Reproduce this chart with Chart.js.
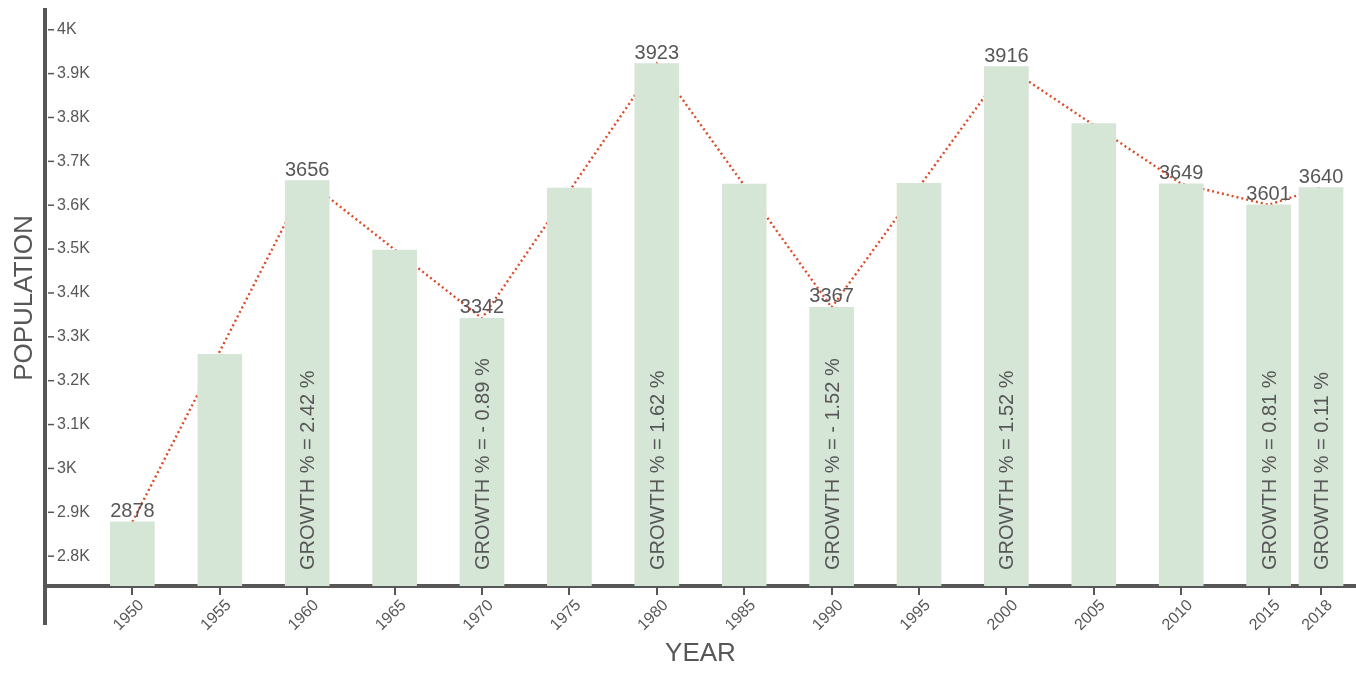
<!DOCTYPE html>
<html>
<head>
<meta charset="utf-8">
<title>Population by year</title>
<script src="https://cdn.jsdelivr.net/npm/chart.js@4.4.1/dist/chart.umd.min.js"></script>
<style>
  html, body { margin: 0; padding: 0; background: #fff; }
  #wrap { width: 1356px; height: 673px; }
</style>
</head>
<body>
<div id="wrap"><canvas id="chart1" width="1356" height="673"></canvas></div>
<script>
const years = [1950, 1955, 1960, 1965, 1970, 1975, 1980, 1985, 1990, 1995, 2000, 2005, 2010, 2015, 2018];
const population = [2878, 3260, 3656, 3498, 3342, 3639, 3923, 3648, 3367, 3650, 3916, 3786, 3649, 3601, 3640];

// years that get a value label on top and a point on the dotted line
const labelYears = [1950, 1960, 1970, 1980, 1990, 2000, 2010, 2015, 2018];

// growth text written inside some bars
const growthYears = [1960, 1970, 1980, 1990, 2000, 2015, 2018];
const growthText = ['GROWTH % = 2.42 %', 'GROWTH % = - 0.89 %', 'GROWTH % = 1.62 %', 'GROWTH % = - 1.52 %',
  'GROWTH % = 1.52 %', 'GROWTH % = 0.81 %', 'GROWTH % = 0.11 %'];

const yTicks = [2800, 2900, 3000, 3100, 3200, 3300, 3400, 3500, 3600, 3700, 3800, 3900, 4000];

const grey = '#575757';
const fontFamily = 'Arial, "Liberation Sans", sans-serif';

const barData = years.map((y, i) => ({ x: y, y: population[i] }));
const lineData = labelYears.map(y => ({ x: y, y: population[years.indexOf(y)] }));

// labels, growth text, y tick dashes and the long left axis line
const annotate = {
  id: 'annotate',
  afterDatasetsDraw(chart) {
    const ctx = chart.ctx;
    const bars = chart.getDatasetMeta(0).data;
    ctx.save();
    ctx.fillStyle = grey;
    ctx.font = '20px ' + fontFamily;
    ctx.textAlign = 'center';
    ctx.textBaseline = 'alphabetic';
    labelYears.forEach(y => {
      const i = years.indexOf(y);
      const bar = bars[i];
      ctx.fillText(String(population[i]), bar.x, bar.y - 5);
    });
    growthYears.forEach((y, k) => {
      const bar = bars[years.indexOf(y)];
      ctx.save();
      ctx.translate(bar.x + 7, chart.chartArea.bottom - 16);
      ctx.rotate(-Math.PI / 2);
      ctx.textAlign = 'left';
      ctx.fillText(growthText[k], 0, 0);
      ctx.restore();
    });
    ctx.restore();
  },
  afterDraw(chart) {
    const ctx = chart.ctx;
    const ys = chart.scales.y;
    const area = chart.chartArea;
    ctx.save();
    ctx.strokeStyle = grey;
    ctx.lineWidth = 1.5;
    ys.ticks.forEach(t => {
      const py = ys.getPixelForValue(t.value);
      ctx.beginPath();
      ctx.moveTo(area.left + 3, py);
      ctx.lineTo(area.left + 9, py);
      ctx.stroke();
    });
    ctx.lineWidth = 4;
    ctx.beginPath();
    ctx.moveTo(area.left, area.bottom);
    ctx.lineTo(area.left, area.bottom + 39);
    ctx.stroke();
    ctx.restore();
  }
};

const ctx1 = document.getElementById('chart1').getContext('2d');

const chart1 = new Chart(ctx1, {
  type: 'bar',
  data: {
    datasets: [{
      type: 'bar',
      label: 'Population',
      data: barData,
      backgroundColor: 'rgb(213, 229, 214)',
      barThickness: 44,
      order: 1
    }, {
      type: 'line',
      label: 'Trend',
      data: lineData,
      borderColor: '#dd4a26',
      borderWidth: 2.4,
      borderDash: [2, 3],
      pointRadius: 0,
      fill: false,
      tension: 0,
      order: 2
    }]
  },
  options: {
    responsive: false,
    animation: false,
    layout: { padding: { top: 10, right: 0, left: 0, bottom: 0 } },
    plugins: {
      legend: { display: false },
      tooltip: { enabled: false }
    },
    scales: {
      x: {
        type: 'linear',
        min: 1945,
        max: 2020,
        offset: false,
        afterFit: s => { s.height = 87; s.paddingLeft = 0; s.paddingRight = 0; },
        afterBuildTicks: s => { s.ticks = years.map(v => ({ value: v })); },
        grid: { display: true, offset: false, drawOnChartArea: false, drawTicks: true, tickLength: 9, color: grey, lineWidth: 2 },
        border: { display: true, color: grey, width: 4 },
        ticks: {
          minRotation: 45,
          maxRotation: 45,
          autoSkip: false,
          padding: 1,
          labelOffset: 9,
          color: grey,
          font: { size: 16, family: fontFamily },
          callback: v => String(v)
        },
        title: {
          display: true,
          text: 'YEAR',
          color: grey,
          font: { size: 26, family: fontFamily },
          padding: { top: 0, bottom: 4 }
        }
      },
      y: {
        min: 2732,
        max: 4045,
        afterFit: s => { s.width = 45; s.paddingTop = 0; s.paddingBottom = 0; },
        afterBuildTicks: s => { s.ticks = yTicks.map(v => ({ value: v })); },
        grid: { display: false },
        border: { display: true, color: grey, width: 4 },
        ticks: {
          mirror: true,
          padding: 12,
          color: grey,
          font: { size: 16, family: fontFamily },
          callback: v => (v / 1000) + 'K'
        },
        title: {
          display: true,
          text: 'POPULATION',
          color: grey,
          font: { size: 26, family: fontFamily },
          padding: { top: 9, bottom: 0 }
        }
      }
    }
  },
  plugins: [annotate]
});
</script>
</body>
</html>
